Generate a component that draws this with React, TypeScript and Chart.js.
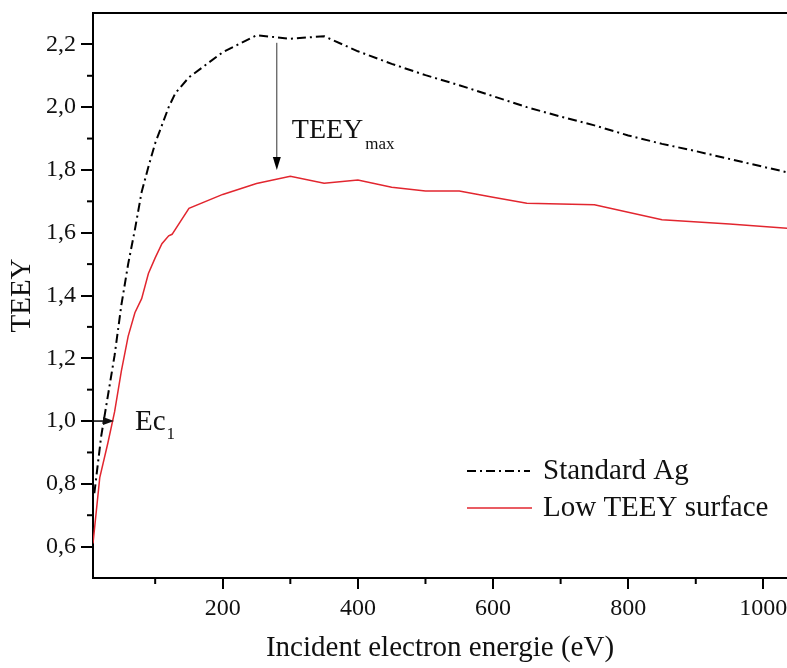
import React, { useEffect, useRef } from "react";
import { Chart, registerables } from "chart.js";

Chart.register(...registerables);

// ---- data ----
const energyAg = [10, 20, 30, 40, 50, 60, 70, 80, 90, 100, 120, 130, 150, 200, 250, 300, 350, 400, 450, 500, 550, 600, 650, 700, 750, 800, 850, 900, 950, 1000, 1050];
const teeyAg = [0.77, 0.95, 1.08, 1.21, 1.37, 1.5, 1.61, 1.73, 1.81, 1.885, 2.0, 2.045, 2.095, 2.175, 2.229, 2.218, 2.226, 2.178, 2.138, 2.102, 2.07, 2.035, 2.0, 1.97, 1.942, 1.91, 1.883, 1.86, 1.835, 1.81, 1.785];

const energyLow = [8, 18, 30, 40, 50, 60, 70, 80, 90, 100, 110, 120, 125, 150, 200, 250, 300, 350, 400, 450, 500, 550, 600, 650, 750, 850, 950, 1050];
const teeyLow = [0.61, 0.82, 0.93, 1.03, 1.16, 1.27, 1.345, 1.39, 1.47, 1.52, 1.565, 1.59, 1.595, 1.678, 1.722, 1.757, 1.78, 1.758, 1.768, 1.745, 1.733, 1.733, 1.713, 1.694, 1.689, 1.641, 1.628, 1.612];

const xMajorTicks = [200, 400, 600, 800, 1000];
const xMinorTicks = [100, 300, 500, 700, 900];
const yMajorTicks = [0.6, 0.8, 1.0, 1.2, 1.4, 1.6, 1.8, 2.0, 2.2];
const yMinorTicks = [0.7, 0.9, 1.1, 1.3, 1.5, 1.7, 1.9, 2.1];

const seriesNames = ["Standard Ag", "Low TEEY surface"];
const xTitle = "Incident electron energie (eV)";
const yTitle = "TEEY";

const FONT = "'Liberation Serif', 'Times New Roman', serif";
const RED = "#e2262f";
const AG_DASH = [9, 4, 2, 4];

const overlayPlugin = {
  id: "overlay",
  afterDraw(chart: any) {
    const { ctx, chartArea } = chart;
    const xs = chart.scales.x;
    const ys = chart.scales.y;
    ctx.save();
    // top frame
    ctx.strokeStyle = "#000";
    ctx.lineWidth = 2;
    ctx.beginPath();
    ctx.moveTo(chartArea.left - 1, chartArea.top);
    ctx.lineTo(chartArea.right, chartArea.top);
    ctx.stroke();
    // minor ticks
    ctx.lineWidth = 2;
    xMinorTicks.forEach((v) => {
      const px = xs.getPixelForValue(v);
      ctx.beginPath();
      ctx.moveTo(px, chartArea.bottom);
      ctx.lineTo(px, chartArea.bottom + 6);
      ctx.stroke();
    });
    yMinorTicks.forEach((v) => {
      const py = ys.getPixelForValue(v);
      ctx.beginPath();
      ctx.moveTo(chartArea.left, py);
      ctx.lineTo(chartArea.left - 6, py);
      ctx.stroke();
    });

    // TEEYmax arrow
    const ax = xs.getPixelForValue(280);
    const ay1 = ys.getPixelForValue(2.205);
    const ay2 = ys.getPixelForValue(1.8);
    ctx.strokeStyle = "#333";
    ctx.lineWidth = 1;
    ctx.beginPath();
    ctx.moveTo(ax, ay1);
    ctx.lineTo(ax, ay2 - 10);
    ctx.stroke();
    ctx.fillStyle = "#000";
    ctx.beginPath();
    ctx.moveTo(ax, ay2);
    ctx.lineTo(ax - 4, ay2 - 13);
    ctx.lineTo(ax + 4, ay2 - 13);
    ctx.closePath();
    ctx.fill();

    ctx.fillStyle = "#111";
    ctx.textBaseline = "alphabetic";
    ctx.textAlign = "left";
    ctx.font = `28px ${FONT}`;
    ctx.fillText("TEEY", ax + 15, 138);
    const w = ctx.measureText("TEEY").width;
    ctx.font = `17px ${FONT}`;
    ctx.fillText("max", ax + 15 + w + 2, 149);

    // Ec1 arrow
    const ey = ys.getPixelForValue(1.0);
    const ex0 = chartArea.left;
    const ex1 = chartArea.left + 21;
    ctx.strokeStyle = "#000";
    ctx.lineWidth = 1.5;
    ctx.beginPath();
    ctx.moveTo(ex0, ey);
    ctx.lineTo(ex1 - 6, ey);
    ctx.stroke();
    ctx.beginPath();
    ctx.moveTo(ex1, ey);
    ctx.lineTo(ex1 - 11, ey - 4);
    ctx.lineTo(ex1 - 11, ey + 4);
    ctx.closePath();
    ctx.fill();
    ctx.fillStyle = "#111";
    ctx.font = `29px ${FONT}`;
    ctx.fillText("Ec", 135, ey + 9);
    const w2 = ctx.measureText("Ec").width;
    ctx.font = `17px ${FONT}`;
    ctx.fillText("1", 135 + w2 + 1, ey + 18);

    // legend
    const lx0 = 467;
    const lx1 = 530;
    const ly1 = 471;
    const ly2 = 508;
    ctx.strokeStyle = "#000";
    ctx.lineWidth = 2;
    ctx.setLineDash(AG_DASH);
    ctx.beginPath();
    ctx.moveTo(lx0, ly1);
    ctx.lineTo(lx1, ly1);
    ctx.stroke();
    ctx.setLineDash([]);
    ctx.strokeStyle = RED;
    ctx.lineWidth = 1.5;
    ctx.beginPath();
    ctx.moveTo(lx0, ly2);
    ctx.lineTo(lx1 + 2, ly2);
    ctx.stroke();
    ctx.fillStyle = "#111";
    ctx.font = `29px ${FONT}`;
    ctx.textBaseline = "middle";
    ctx.fillText(seriesNames[0], 543, ly1);
    ctx.fillText(seriesNames[1], 543, ly2);
    ctx.restore();
  },
};

export default function App() {
  const ref = useRef<HTMLCanvasElement | null>(null);
  useEffect(() => {
    if (!ref.current) return;
    const chart = new Chart(ref.current, {
      type: "line",
      data: {
        datasets: [
          {
            label: seriesNames[0],
            data: energyAg.map((x, i) => ({ x, y: teeyAg[i] })),
            borderColor: "#000",
            borderWidth: 2,
            borderDash: AG_DASH,
            pointRadius: 0,
            tension: 0,
            fill: false,
          },
          {
            label: seriesNames[1],
            data: energyLow.map((x, i) => ({ x, y: teeyLow[i] })),
            borderColor: RED,
            borderWidth: 1.5,
            pointRadius: 0,
            tension: 0,
            fill: false,
          },
        ],
      },
      options: {
        animation: false,
        responsive: false,
        devicePixelRatio: 1,
        layout: { padding: { top: 13, right: 0, left: 0, bottom: 0 } },
        plugins: { legend: { display: false }, tooltip: { enabled: false } },
        scales: {
          x: {
            type: "linear",
            min: 8,
            max: 1035,
            afterFit: (s: any) => {
              s.height = 90;
              s.paddingLeft = 0;
              s.paddingRight = 0;
            },
            afterBuildTicks: (s: any) => {
              s.ticks = xMajorTicks.map((value) => ({ value }));
            },
            ticks: {
              color: "#111",
              font: { family: FONT, size: 24 },
              padding: 5,
              maxRotation: 0,
              autoSkip: false,
              callback: (v: any) => String(v),
            },
            grid: { drawOnChartArea: false, drawTicks: true, tickLength: 11, color: "#000", lineWidth: 2 },
            border: { display: true, color: "#000", width: 2 },
            title: {
              display: true,
              text: xTitle,
              color: "#111",
              font: { family: FONT, size: 29 },
              padding: { top: 0, bottom: 2 },
            },
          },
          y: {
            type: "linear",
            min: 0.5,
            max: 2.3,
            afterFit: (s: any) => {
              s.width = 93;
              s.paddingTop = 0;
              s.paddingBottom = 0;
            },
            afterBuildTicks: (s: any) => {
              s.ticks = yMajorTicks.map((value) => ({ value }));
            },
            ticks: {
              color: "#111",
              font: { family: FONT, size: 24 },
              padding: 5,
              autoSkip: false,
              callback: (v: any) => Number(v).toFixed(1).replace(".", ","),
            },
            grid: { drawOnChartArea: false, drawTicks: true, tickLength: 12, color: "#000", lineWidth: 2 },
            border: { display: true, color: "#000", width: 2 },
            title: {
              display: true,
              text: yTitle,
              color: "#111",
              font: { family: FONT, size: 29 },
              padding: { top: 5, bottom: 0 },
            },
          },
        },
      },
      plugins: [overlayPlugin],
    });
    return () => chart.destroy();
  }, []);
  return (
    <div style={{ position: "absolute", left: 0, top: 0, width: 787, height: 668, background: "#fff", overflow: "hidden" }}>
      <canvas ref={ref} width={787} height={668} />
    </div>
  );
}
